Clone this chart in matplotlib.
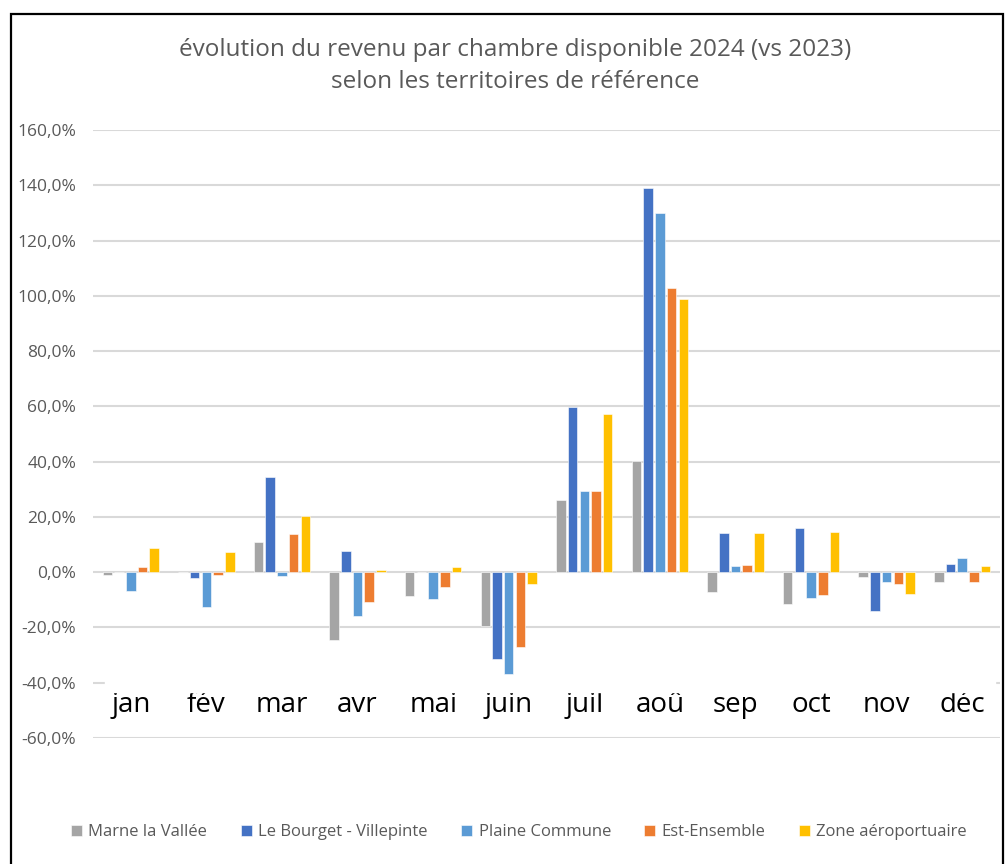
import matplotlib
matplotlib.use("Agg")
import matplotlib.pyplot as plt
import numpy as np
from matplotlib.patches import Rectangle
from matplotlib.ticker import FuncFormatter

months = ["jan", "fév", "mar", "avr", "mai", "juin", "juil", "aoû", "sep", "oct", "nov", "déc"]
series_names = ["Marne la Vallée", "Le Bourget - Villepinte", "Plaine Commune", "Est-Ensemble", "Zone aéroportuaire"]
marne = [-1.2, 0.0, 10.9, -24.5, -8.7, -19.4, 26.0, 40.2, -7.2, -11.6, -1.9, -3.4]
bourget = [0.0, -2.2, 34.4, 7.6, 0.0, -31.5, 59.6, 139.0, 14.2, 15.9, -14.1, 3.1]
plaine = [-6.9, -12.7, -1.5, -15.9, -9.6, -36.9, 29.5, 130.0, 2.3, -9.4, -3.4, 5.2]
est = [2.0, -1.2, 13.7, -10.8, -5.2, -26.9, 29.2, 102.9, 2.6, -8.3, -4.1, -3.4]
zone = [8.8, 7.3, 20.2, 0.8, 1.9, -4.3, 57.4, 98.9, 14.2, 14.6, -7.9, 2.3]
yticks = [-60, -40, -20, 0, 20, 40, 60, 80, 100, 120, 140, 160]
title = "évolution du revenu par chambre disponible 2024 (vs 2023)\nselon les territoires de référence"

colors = ["#A5A5A5", "#4472C4", "#5B9BD5", "#ED7D31", "#FFC000"]
data = [marne, bourget, plaine, est, zone]

plt.rcParams['font.family'] = ['Open Sans', 'DejaVu Sans']

fig = plt.figure(figsize=(10.08, 8.64), dpi=100)
ax = fig.add_axes([93/1008, 1-738/864, (1000-93)/1008, (738-130)/864])

x = np.arange(len(months))
slot = 0.155
width = 0.126
for i, (name, vals, c) in enumerate(zip(series_names, data, colors)):
    ax.bar(x + (i - 2) * slot, vals, width=width, color=c, label=name,
           edgecolor="white", linewidth=0.4, zorder=3)

ax.set_xlim(-0.5, len(months) - 0.5)
ax.set_ylim(-60, 160)
ax.set_yticks(yticks)
ax.yaxis.set_major_formatter(FuncFormatter(lambda v, p: f"{v:.1f}%".replace(".", ",")))
ax.grid(axis="y", color="#D9D9D9", linewidth=1.5, zorder=0)
ax.set_axisbelow(True)
for s in ax.spines.values():
    s.set_visible(False)
ax.tick_params(axis="y", length=0, pad=12, labelsize=12.5, labelcolor="#595959")

# white band behind month labels (covers the -40 gridline)
ax.axhspan(-43.5, -38.5, xmin=12/907, xmax=902/907, color="white", zorder=1)

ax.spines["bottom"].set_position(("data", -40))
ax.set_xticks(x)
ax.set_xticklabels(months, fontweight="medium")
ax.tick_params(axis="x", length=0, pad=6, labelsize=20, labelcolor="#000000")

fig.text(515/1008, 1-66/864, title, ha="center", va="center", fontsize=17.5,
         color="#595959", linespacing=1.5)

leg = ax.legend(loc="center", bbox_to_anchor=(519/1008, 1-832/864), bbox_transform=fig.transFigure,
                ncol=5, frameon=False, fontsize=12, handlelength=0.65, handleheight=0.65,
                handletextpad=0.4, columnspacing=2.0)
for t in leg.get_texts():
    t.set_color("#595959")

fig.patches.append(Rectangle((11/1008, -0.05), (1003-11)/1008, 1-14/864 + 0.05,
                             transform=fig.transFigure, fill=False, edgecolor="black",
                             linewidth=1.6))

fig.savefig("out.png", dpi=100)
